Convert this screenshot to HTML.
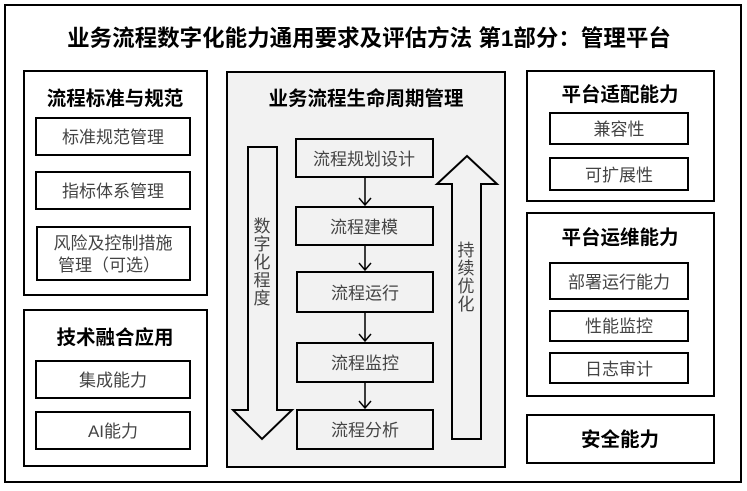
<!DOCTYPE html>
<html><head><meta charset="utf-8"><style>
html,body{margin:0;padding:0;background:#fff;}
svg text{font-family:"Liberation Sans","Noto Sans CJK SC",sans-serif;}
.t{font-weight:bold;fill:#000;}
.s{fill:#444;font-size:17px;}
</style></head><body>
<svg width="747" height="486" viewBox="0 0 747 486" xmlns="http://www.w3.org/2000/svg">
<rect x="5" y="5" width="736" height="477" fill="#fff" stroke="#000" stroke-width="2"/>
<text x="369" y="46" text-anchor="middle" class="t" font-size="22.5">业务流程数字化能力通用要求及评估方法 第1部分：管理平台</text>
<g fill="#fff" stroke="#000" stroke-width="2">
<rect x="24" y="71" width="183" height="224"/>
<rect x="36" y="118" width="154" height="37"/>
<rect x="36" y="172" width="154" height="37"/>
<rect x="37" y="227" width="153" height="53"/>
<rect x="24" y="310" width="183" height="156"/>
<rect x="36" y="361" width="154" height="37"/>
<rect x="36" y="412" width="154" height="37"/>
<rect x="227" y="72" width="278" height="395" fill="#f2f2f2"/>
<rect x="296" y="139" width="137" height="38" fill="#f2f2f2"/>
<rect x="296" y="207" width="137" height="38" fill="#f2f2f2"/>
<rect x="297" y="272" width="136" height="40" fill="#f2f2f2"/>
<rect x="297" y="343" width="136" height="39" fill="#f2f2f2"/>
<rect x="297" y="410" width="136" height="39" fill="#f2f2f2"/>
<path d="M248 147 H277 V410 H292 L262 439 L233 410 H248 Z" fill="#f2f2f2"/>
<path d="M452 439 V184 H437 L467 156 L497 184 H481 V439 Z" fill="#f2f2f2"/>
<rect x="527" y="71" width="187" height="130"/>
<rect x="550" y="113" width="138" height="31"/>
<rect x="550" y="158" width="138" height="32"/>
<rect x="527" y="213" width="187" height="183"/>
<rect x="550" y="263" width="138" height="36"/>
<rect x="550" y="311" width="138" height="30"/>
<rect x="550" y="353" width="138" height="30"/>
<rect x="527" y="415" width="187" height="48"/>
</g>
<g stroke="#000" stroke-width="1.5" fill="none">
<path d="M365 177 V205 M359 198 L365 205 L371 198"/>
<path d="M365 245 V270 M359 263 L365 270 L371 263"/>
<path d="M365 312 V341 M359 334 L365 341 L371 334"/>
<path d="M365 382 V408 M359 401 L365 408 L371 401"/>
</g>
<g text-anchor="middle">
<text x="115" y="105" class="t" font-size="19.5">流程标准与规范</text>
<text x="113" y="143" class="s">标准规范管理</text>
<text x="113" y="197" class="s">指标体系管理</text>
<text x="113" y="249" class="s">风险及控制措施</text>
<text x="109" y="271" class="s">管理（可选）</text>
<text x="115" y="344" class="t" font-size="19.5">技术融合应用</text>
<text x="113" y="386" class="s">集成能力</text>
<text x="113" y="437" class="s">AI能力</text>
<text x="366" y="105" class="t" font-size="19.5">业务流程生命周期管理</text>
<text x="364" y="165" class="s">流程规划设计</text>
<text x="364" y="233" class="s">流程建模</text>
<text x="365" y="299" class="s">流程运行</text>
<text x="365" y="369" class="s">流程监控</text>
<text x="365" y="436" class="s">流程分析</text>
<text x="262" y="232" class="s" fill="#000">数</text>
<text x="262" y="250" class="s">字</text>
<text x="262" y="268" class="s">化</text>
<text x="262" y="286" class="s">程</text>
<text x="262" y="304" class="s">度</text>
<text x="466" y="256" class="s">持</text>
<text x="466" y="274" class="s">续</text>
<text x="466" y="292" class="s">优</text>
<text x="466" y="310" class="s">化</text>
<text x="620" y="101" class="t" font-size="19.5">平台适配能力</text>
<text x="619" y="135" class="s">兼容性</text>
<text x="619" y="181" class="s">可扩展性</text>
<text x="620" y="244" class="t" font-size="19.5">平台运维能力</text>
<text x="619" y="288" class="s">部署运行能力</text>
<text x="619" y="332" class="s">性能监控</text>
<text x="619" y="375" class="s">日志审计</text>
<text x="620" y="446" class="t" font-size="19.5">安全能力</text>
</g>
</svg>
</body></html>
